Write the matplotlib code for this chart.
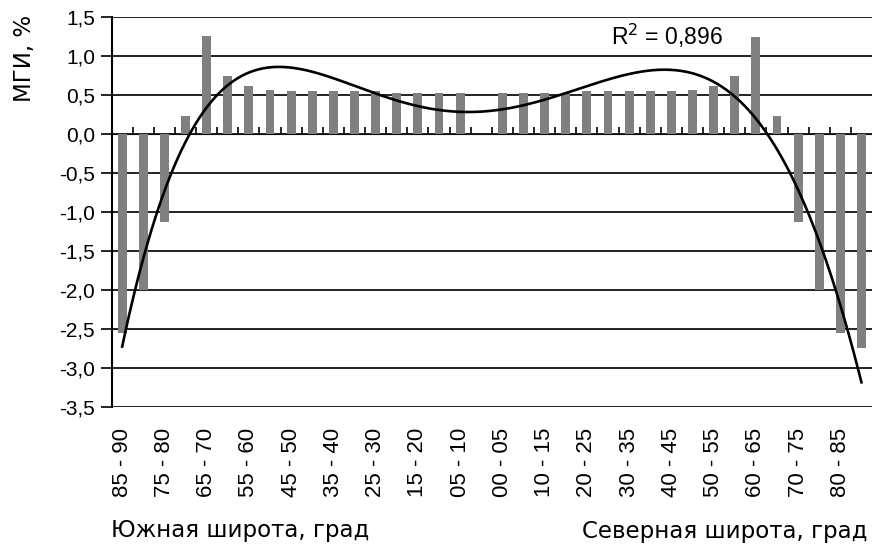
import numpy as np
import matplotlib.pyplot as plt

plt.rcParams['font.family'] = ['Liberation Sans', 'DejaVu Sans']

# latitude bands, south pole -> equator -> north pole
south_bands = ['85 - 90', '80 - 85', '75 - 80', '70 - 75', '65 - 70', '60 - 65',
               '55 - 60', '50 - 55', '45 - 50', '40 - 45', '35 - 40', '30 - 35',
               '25 - 30', '20 - 25', '15 - 20', '10 - 15', '05 - 10', '00 - 05']
north_bands = ['00 - 05', '05 - 10', '10 - 15', '15 - 20', '20 - 25', '25 - 30',
               '30 - 35', '35 - 40', '40 - 45', '45 - 50', '50 - 55', '55 - 60',
               '60 - 65', '65 - 70', '70 - 75', '75 - 80', '80 - 85', '85 - 90']

# МГИ, % (south 00-05 is empty)
south_mgi = [-2.55, -2.0, -1.13, 0.23, 1.25, 0.74, 0.62, 0.57, 0.55, 0.55,
             0.55, 0.55, 0.55, 0.53, 0.53, 0.53, 0.53, 0.0]
north_mgi = [0.53, 0.53, 0.53, 0.53, 0.55, 0.55, 0.55, 0.55, 0.55, 0.57,
             0.62, 0.74, 1.24, 0.23, -1.13, -2.0, -2.55, -2.74]

r2_text = 'R$^2$ = 0,896'

labels = south_bands + north_bands
values = np.array(south_mgi + north_mgi)
x = np.arange(len(labels))

fig = plt.figure(figsize=(8.72, 5.44), dpi=100)
ax = fig.add_axes([0.128, 0.2518, 0.872, 0.717])

ax.bar(x, values, width=0.42, color='#808080', zorder=2)

# polynomial trend line (5th order), empty cell counted as zero like the spreadsheet did
coef = np.polyfit(x + 1, values, 5)
xs = np.linspace(0, len(labels) - 1, 400)
ax.plot(xs, np.polyval(coef, xs + 1), color='black', lw=1.9, zorder=3)

ax.text(25.77, 1.14, r2_text, ha='center', va='baseline', fontsize=16.5)

ax.set_xlim(-0.5, len(labels) - 0.5)
ax.set_ylim(-3.5, 1.5)
yt = np.arange(-3.5, 1.51, 0.5)
ax.set_yticks(yt)
ax.set_yticklabels([f'{v:.1f}'.replace('.', ',') for v in yt], fontsize=15)
ax.yaxis.grid(True, color='#111111', lw=1.3)
ax.set_axisbelow(True)
ax.tick_params(axis='y', direction='out', length=8, width=1.2, pad=4)

ax.set_xticks(x[::2])
ax.set_xticklabels(labels[::2], rotation=90, fontsize=16)
ax.tick_params(axis='x', length=0, pad=15)

for s in ['top', 'right', 'bottom']:
    ax.spines[s].set_visible(False)
ax.spines['left'].set_linewidth(1.5)

# zero axis with tick marks between categories
zero = ax.secondary_xaxis(0.7)
zero.set_xticks(np.arange(0.5, len(labels) - 1, 1.0))
zero.set_xticklabels([])
zero.tick_params(direction='out', length=5, width=1.2)
zero.spines['bottom'].set_linewidth(1.5)

cyr = dict(family='DejaVu Sans', fontsize=16.5)
fig.text(25 / 872, 1 - 58 / 544, 'МГИ, %', rotation=90, ha='center', va='center', **cyr)
fig.text(111 / 872, 1 - 537 / 544, 'Южная широта, град', ha='left', va='baseline', **cyr)
fig.text(867 / 872, 1 - 538 / 544, 'Северная широта, град', ha='right', va='baseline', **cyr)

fig.savefig('out.png', dpi=100)
